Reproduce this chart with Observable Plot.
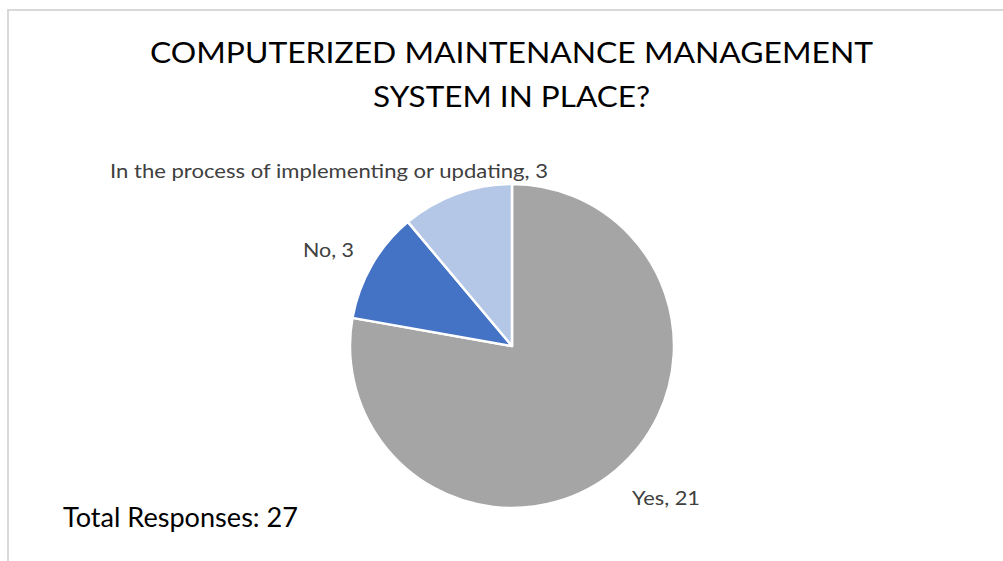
<!DOCTYPE html>
<html>
<head>
<meta charset="utf-8">
<script src="https://cdn.jsdelivr.net/npm/d3@7"></script>
<script src="https://cdn.jsdelivr.net/npm/@observablehq/plot@0.6"></script>
<style>
  html, body { margin: 0; padding: 0; background: #fff; }
  #wrap { position: relative; width: 1003px; height: 561px; overflow: hidden; font-family: Lato, "Open Sans", sans-serif; }
  #frame { position: absolute; left: 7px; top: 9px; width: 1010px; height: 570px; border-left: 2.5px solid #d9d9d9; border-top: 2.5px solid #d9d9d9; box-sizing: border-box; }
  #chart { position: absolute; left: 0; top: 0; }
</style>
</head>
<body>
<div id="wrap"><div id="frame"></div><div id="chart"></div></div>
<script>
// ---- data ----
const categories = ["Yes", "No", "In the process of implementing or updating"];
const counts = [21, 3, 3];
const colors = ["#a5a5a5", "#4472c4", "#b4c7e7"];
const titleLines = ["COMPUTERIZED MAINTENANCE MANAGEMENT", "SYSTEM IN PLACE?"];
const totalPrefix = "Total Responses: ";

const data = categories.map((c, i) => ({category: c, count: counts[i]}));
const total = d3.sum(counts);

const W = 1003, H = 561;
const cx = 512, cy = 346, R = 162;

// label placement (text baseline start and fitted width)
const labelPlace = {
  "Yes": {x: 632, y: 505, len: 68},
  "No": {x: 303, y: 257, len: 51},
  "In the process of implementing or updating": {x: 110, y: 178, len: 438}
};

function pieMark(index, scales, values, dimensions, context) {
  const color = (scales && scales.color) ? scales.color : d3.scaleOrdinal(categories, colors);
  const svg = d3.create("svg:g");
  const pie = d3.pie().sort(null).value(d => d.count).startAngle(0).endAngle(2 * Math.PI);
  const arc = d3.arc().innerRadius(0).outerRadius(R);
  const arcs = pie(data);
  const g = svg.append("g").attr("transform", `translate(${cx},${cy})`);
  g.selectAll("path").data(arcs).join("path")
    .attr("d", arc)
    .attr("fill", d => color(d.data.category))
    .attr("stroke", "#fff")
    .attr("stroke-width", 2.5)
    .attr("stroke-linejoin", "round");
  // data labels
  svg.selectAll("text.lbl").data(arcs).join("text")
    .attr("class", "lbl")
    .attr("x", d => labelPlace[d.data.category].x)
    .attr("y", d => labelPlace[d.data.category].y)
    .attr("text-anchor", "start")
    .attr("textLength", d => labelPlace[d.data.category].len)
    .attr("lengthAdjust", "spacingAndGlyphs")
    .attr("fill", "#404040")
    .attr("font-size", 18.5)
    .attr("font-family", "Lato, 'Open Sans', sans-serif")
    .text(d => `${d.data.category}, ${d.data.count}`);
  // title
  const tl = [{t: titleLines[0], y: 63, len: 723}, {t: titleLines[1], y: 107, len: 277}];
  svg.selectAll("text.title").data(tl).join("text")
    .attr("class", "title")
    .attr("x", 511.5)
    .attr("y", d => d.y)
    .attr("text-anchor", "middle")
    .attr("textLength", d => d.len)
    .attr("lengthAdjust", "spacingAndGlyphs")
    .attr("fill", "#000")
    .attr("font-size", 28)
    .attr("font-family", "Lato, 'Open Sans', sans-serif")
    .text(d => d.t);
  svg.append("text")
    .attr("x", 63).attr("y", 527)
    .attr("text-anchor", "start")
    .attr("textLength", 235)
    .attr("lengthAdjust", "spacingAndGlyphs")
    .attr("fill", "#000")
    .attr("font-size", 27)
    .attr("font-family", "Lato, 'Open Sans', sans-serif")
    .text(totalPrefix + total);
  return svg.node();
}

const chart = Plot.plot({
  width: W,
  height: H,
  margin: 0,
  style: {background: "transparent", overflow: "visible"},
  x: {domain: [0, 1], axis: null},
  y: {domain: [0, 1], axis: null},
  color: {domain: categories, range: colors},
  marks: [
    Plot.dot(data, {x: () => 0.5, y: () => 0.5, fill: "category", r: 0}),
    pieMark
  ]
});
document.getElementById("chart").appendChild(chart);
</script>
</body>
</html>
